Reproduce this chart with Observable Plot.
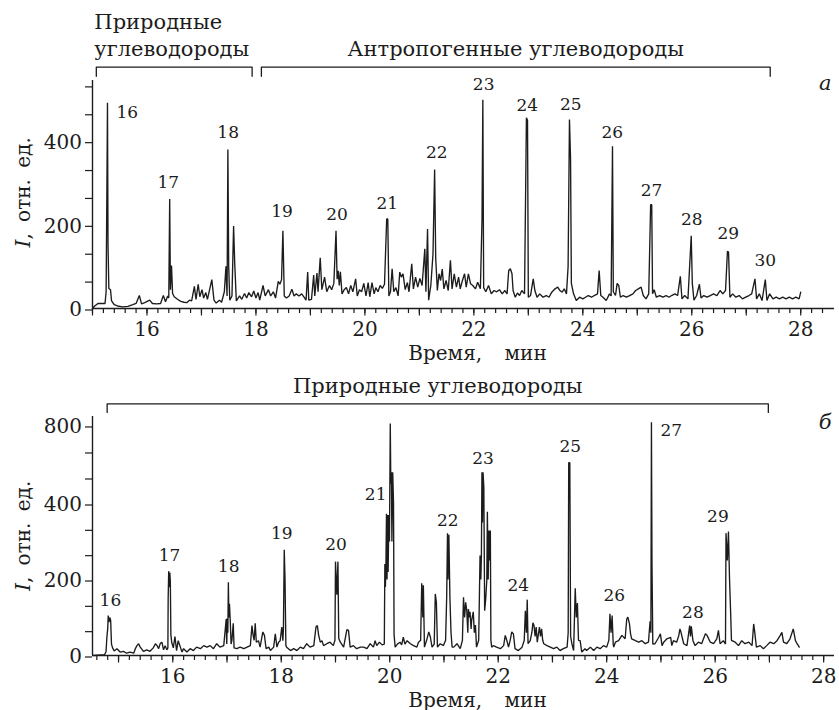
<!DOCTYPE html>
<html><head><meta charset="utf-8">
<script src="https://cdn.jsdelivr.net/npm/d3@7"></script>
<script src="https://cdn.jsdelivr.net/npm/@observablehq/plot@0.6"></script>
<style>
html,body{margin:0;padding:0;background:#fff;}
#chart{width:839px;height:710px;}
#chart svg{display:block;font-family:"DejaVu Serif",serif;}
#chart svg text{font-family:"DejaVu Serif",serif;}
</style></head><body><div id="chart"></div>
<script>
// ---------- Panel а : chromatogram (time, min ; intensity, rel. units) ----------
const traceA = [
[15.00,0],[15.04,6],[15.10,12],[15.23,12],[15.25,40],[15.265,300],[15.275,492],[15.285,150],[15.30,48],[15.33,45],[15.35,18],[15.40,9],[15.46,6],[15.55,4],[15.65,5],[15.74,9],[15.80,12],[15.86,31],[15.90,11],[15.96,14],[16.05,20],[16.10,12],[16.18,11],[16.25,12],[16.30,31],[16.34,16],[16.38,30],[16.40,25],[16.417,262],[16.43,45],[16.45,103],[16.47,36],[16.50,28],[16.56,22],[16.62,17],[16.68,15],[16.73,14],[16.78,20],[16.82,18],[16.87,53],[16.90,22],[16.94,58],[16.97,28],[17.01,45],[17.04,25],[17.08,38],[17.11,22],[17.19,69],[17.23,20],[17.27,13],[17.33,20],[17.37,15],[17.42,40],[17.45,101],[17.47,30],[17.485,380],[17.50,100],[17.52,20],[17.56,30],[17.59,197],[17.61,110],[17.64,18],[17.70,30],[17.74,22],[17.79,36],[17.83,25],[17.87,38],[17.92,28],[17.96,42],[18.00,25],[18.04,38],[18.07,20],[18.13,55],[18.17,30],[18.23,45],[18.27,30],[18.32,40],[18.36,25],[18.41,65],[18.44,58],[18.47,69],[18.495,186],[18.52,30],[18.56,25],[18.61,30],[18.66,46],[18.70,30],[18.74,35],[18.79,30],[18.84,35],[18.88,28],[18.92,20],[18.95,87],[18.97,20],[19.02,22],[19.06,80],[19.08,30],[19.12,85],[19.14,40],[19.18,121],[19.21,45],[19.26,75],[19.30,40],[19.35,55],[19.39,45],[19.43,60],[19.47,186],[19.49,70],[19.51,90],[19.53,55],[19.55,88],[19.58,35],[19.62,45],[19.66,50],[19.70,35],[19.74,55],[19.78,40],[19.83,71],[19.86,30],[19.90,45],[19.94,40],[19.98,60],[20.02,30],[20.06,62],[20.09,28],[20.13,62],[20.17,35],[20.20,50],[20.24,40],[20.28,55],[20.32,48],[20.36,58],[20.40,214],[20.42,214],[20.44,30],[20.47,40],[20.50,95],[20.53,40],[20.57,50],[20.61,30],[20.64,87],[20.67,75],[20.70,83],[20.74,45],[20.78,62],[20.81,40],[20.86,107],[20.89,47],[20.93,75],[20.97,51],[21.01,72],[21.05,55],[21.10,143],[21.12,40],[21.15,190],[21.17,20],[21.21,55],[21.25,130],[21.28,332],[21.30,120],[21.33,43],[21.36,83],[21.39,67],[21.42,94],[21.45,47],[21.49,67],[21.53,43],[21.57,115],[21.60,47],[21.64,83],[21.68,51],[21.72,75],[21.75,47],[21.79,67],[21.83,83],[21.86,51],[21.90,83],[21.94,59],[21.98,55],[22.03,47],[22.07,63],[22.12,47],[22.15,214],[22.165,499],[22.18,50],[22.22,40],[22.27,55],[22.32,35],[22.37,43],[22.42,40],[22.47,45],[22.52,35],[22.57,43],[22.61,35],[22.64,91],[22.67,95],[22.70,83],[22.72,43],[22.76,27],[22.80,37],[22.84,31],[22.88,43],[22.93,35],[22.965,456],[22.985,450],[23.00,27],[23.04,31],[23.09,71],[23.12,43],[23.16,27],[23.21,35],[23.27,27],[23.33,31],[23.38,27],[23.43,39],[23.49,47],[23.54,51],[23.58,43],[23.62,39],[23.66,47],[23.70,35],[23.73,100],[23.755,452],[23.775,358],[23.79,60],[23.83,35],[23.88,19],[23.94,27],[24.00,23],[24.05,27],[24.10,31],[24.16,27],[24.21,31],[24.27,35],[24.30,91],[24.33,31],[24.37,27],[24.43,19],[24.49,35],[24.52,30],[24.545,388],[24.56,40],[24.60,31],[24.63,60],[24.66,55],[24.69,27],[24.74,31],[24.80,27],[24.86,31],[24.92,35],[24.97,43],[25.02,47],[25.07,51],[25.11,31],[25.16,23],[25.21,35],[25.245,248],[25.265,248],[25.28,35],[25.31,45],[25.35,27],[25.41,31],[25.47,27],[25.53,31],[25.58,27],[25.63,31],[25.69,35],[25.74,31],[25.79,77],[25.82,23],[25.87,31],[25.93,23],[25.99,174],[26.01,60],[26.04,20],[26.09,31],[26.14,58],[26.17,25],[26.22,31],[26.28,27],[26.34,31],[26.40,35],[26.46,31],[26.52,43],[26.57,35],[26.62,43],[26.655,137],[26.675,135],[26.70,27],[26.75,35],[26.81,27],[26.87,31],[26.93,23],[26.99,27],[27.05,31],[27.10,35],[27.16,71],[27.19,23],[27.24,35],[27.29,19],[27.35,69],[27.38,19],[27.43,35],[27.49,23],[27.55,27],[27.61,23],[27.67,27],[27.73,23],[27.79,27],[27.85,23],[27.91,27],[27.97,23],[28.00,39]
];
const peakNamesA = ["16","17","18","19","20","21","22","23","24","25","26","27","28","29","30"];
const peakLabelTimeA = [15.64,16.39,17.49,18.48,19.49,20.41,21.32,22.18,22.98,23.78,24.54,25.26,26.00,26.67,27.35];
const peakLabelLevelA = [468,301,421,232,225,251,373,535,486,487,421,283,212,178,115];
const groupNamesA = ["Природные\nуглеводороды", "Антропогенные углеводороды"];
const groupStartA = [15.07, 18.10];
const groupEndA = [17.93, 27.44];

// ---------- Panel б ----------
const traceB = [
[14.54,0],[14.74,2],[14.77,10],[14.785,48],[14.80,70],[14.81,105],[14.825,88],[14.84,100],[14.855,92],[14.87,30],[14.89,20],[14.92,12],[14.97,18],[15.03,9],[15.09,11],[15.15,6],[15.21,9],[15.28,6],[15.31,18],[15.34,26],[15.37,31],[15.40,22],[15.46,11],[15.52,15],[15.58,11],[15.64,20],[15.68,31],[15.71,26],[15.74,18],[15.77,32],[15.80,35],[15.83,15],[15.86,26],[15.89,15],[15.91,20],[15.915,150],[15.925,222],[15.935,180],[15.945,218],[15.955,195],[15.965,55],[15.98,35],[16.01,20],[16.04,50],[16.07,13],[16.10,39],[16.14,22],[16.17,9],[16.20,18],[16.26,9],[16.32,18],[16.38,13],[16.44,22],[16.51,18],[16.57,26],[16.63,22],[16.69,26],[16.75,18],[16.81,31],[16.87,22],[16.94,26],[16.985,96],[16.995,30],[17.005,98],[17.015,60],[17.025,193],[17.035,100],[17.045,136],[17.06,90],[17.075,30],[17.09,40],[17.115,85],[17.13,20],[17.18,18],[17.24,22],[17.31,18],[17.37,22],[17.43,26],[17.46,79],[17.48,55],[17.50,40],[17.52,85],[17.54,35],[17.58,39],[17.61,22],[17.66,62],[17.69,53],[17.72,18],[17.77,22],[17.80,13],[17.86,22],[17.89,57],[17.92,22],[17.95,35],[17.98,39],[18.01,75],[18.03,39],[18.04,70],[18.055,278],[18.07,197],[18.085,26],[18.10,22],[18.17,13],[18.23,18],[18.29,13],[18.35,22],[18.41,18],[18.47,31],[18.53,22],[18.60,26],[18.64,75],[18.665,79],[18.69,53],[18.72,35],[18.75,39],[18.78,26],[18.84,31],[18.90,35],[18.96,26],[18.99,40],[19.00,247],[19.025,160],[19.045,247],[19.06,45],[19.09,35],[19.15,22],[19.21,68],[19.24,66],[19.27,22],[19.33,26],[19.39,18],[19.46,22],[19.52,22],[19.58,18],[19.64,31],[19.70,22],[19.73,39],[19.76,26],[19.81,35],[19.86,28],[19.90,30],[19.91,241],[19.92,180],[19.93,241],[19.94,373],[19.95,200],[19.96,370],[19.97,220],[19.985,370],[19.995,300],[20.01,810],[20.02,500],[20.03,560],[20.04,300],[20.055,560],[20.07,400],[20.08,55],[20.10,22],[20.14,30],[20.19,35],[20.22,28],[20.25,48],[20.28,30],[20.32,39],[20.38,31],[20.44,26],[20.50,22],[20.53,35],[20.57,40],[20.59,190],[20.61,100],[20.62,185],[20.64,22],[20.68,40],[20.72,62],[20.75,48],[20.78,22],[20.82,30],[20.84,162],[20.86,140],[20.88,22],[20.93,31],[20.99,26],[21.03,40],[21.05,154],[21.065,322],[21.075,200],[21.09,318],[21.11,150],[21.13,60],[21.15,22],[21.18,22],[21.24,31],[21.30,18],[21.34,40],[21.36,153],[21.38,100],[21.40,140],[21.42,118],[21.44,60],[21.45,122],[21.47,100],[21.48,115],[21.50,70],[21.51,92],[21.54,115],[21.56,60],[21.58,80],[21.60,22],[21.64,40],[21.665,263],[21.68,200],[21.69,263],[21.70,560],[21.71,350],[21.72,560],[21.735,480],[21.75,118],[21.77,150],[21.79,200],[21.80,378],[21.815,200],[21.83,329],[21.845,250],[21.855,329],[21.865,40],[21.88,22],[21.91,26],[21.97,22],[22.04,18],[22.10,26],[22.13,53],[22.16,39],[22.19,22],[22.22,40],[22.25,62],[22.28,57],[22.31,18],[22.37,13],[22.44,22],[22.48,40],[22.50,118],[22.52,60],[22.535,147],[22.55,31],[22.59,39],[22.62,60],[22.64,86],[22.66,79],[22.68,50],[22.70,75],[22.72,35],[22.76,75],[22.78,50],[22.80,70],[22.82,40],[22.84,31],[22.90,26],[22.96,22],[23.02,18],[23.08,22],[23.14,13],[23.20,18],[23.27,22],[23.29,60],[23.30,609],[23.32,609],[23.335,50],[23.36,30],[23.39,13],[23.42,177],[23.44,100],[23.46,138],[23.48,40],[23.51,39],[23.54,9],[23.60,18],[23.63,13],[23.70,22],[23.76,13],[23.82,22],[23.88,18],[23.94,26],[24.00,22],[24.04,40],[24.06,110],[24.08,60],[24.10,105],[24.12,30],[24.13,22],[24.16,35],[24.22,39],[24.28,53],[24.34,44],[24.37,96],[24.39,101],[24.42,83],[24.44,57],[24.46,44],[24.53,39],[24.59,35],[24.65,39],[24.71,31],[24.77,35],[24.80,90],[24.815,60],[24.825,817],[24.835,245],[24.85,30],[24.89,31],[24.96,48],[24.99,57],[25.02,26],[25.05,35],[25.11,44],[25.18,48],[25.20,26],[25.23,39],[25.29,35],[25.33,53],[25.35,70],[25.37,61],[25.42,31],[25.48,26],[25.53,79],[25.545,50],[25.56,77],[25.59,39],[25.63,26],[25.69,35],[25.75,31],[25.82,57],[25.85,53],[25.91,35],[25.97,31],[26.03,44],[26.06,66],[26.09,31],[26.15,39],[26.19,30],[26.20,322],[26.225,250],[26.245,326],[26.265,200],[26.285,114],[26.30,40],[26.37,35],[26.43,26],[26.49,39],[26.55,31],[26.62,35],[26.68,26],[26.71,83],[26.73,61],[26.76,22],[26.83,26],[26.89,18],[26.95,26],[27.01,35],[27.08,31],[27.14,39],[27.20,53],[27.23,61],[27.26,35],[27.32,31],[27.38,44],[27.44,70],[27.48,39],[27.51,31],[27.55,22]
];
const peakNamesB = ["16","17","18","19","20","21","22","23","24","25","26","27","28","29"];
const peakLabelTimeB = [14.85,15.94,17.03,18.01,19.01,19.74,21.07,21.72,22.37,23.33,24.14,25.19,25.59,26.05];
const peakLabelLevelB = [145,263,234,321,293,447,356,629,184,693,158,773,114,366];
const groupNamesB = ["Природные углеводороды"];
const groupStartB = [14.79];
const groupEndB = [26.98];

// ---------- axis tick values ----------
const yTickLabelsA = [0, 200, 400];
const yTickLabelsB = [0, 200, 400, 800];
const xLabel = "Время, мин";
const yLabel = "I, отн. ед.";

const FONT = "DejaVu Serif";
const INK = "#1c1c1c";

function panel({trace, names, lt, lv, groups, gs, ge, domainX, y, height, marginTop, marginBottom,
                minor, major, yTicks, yTickLabels, bracketTop, bracketFoot, headerLevel, letter, letterT, letterV, multiHeader, yLabelShift}) {
  const groupData = groups.map((g, i) => ({name: g, s: gs[i], e: ge[i]}));
  const labelData = names.map((n, i) => ({n, t: lt[i], v: lv[i]}));
  const bracketLines = groupData.map(g => [[g.s, bracketFoot], [g.s, bracketTop], [g.e, bracketTop], [g.e, bracketFoot]]);
  const headerMarks = multiHeader
    ? [Plot.text([groupData[0]], {x: "s", y: () => headerLevel, text: "name", textAnchor: "start", dx: -2,
         lineAnchor: "bottom", lineHeight: 1.28, fontSize: 21, fontFamily: FONT}),
       Plot.text([groupData[1]], {x: d => (d.s + d.e) / 2, y: () => headerLevel, text: "name",
         lineAnchor: "bottom", fontSize: 21, fontFamily: FONT})]
    : [Plot.text(groupData, {x: d => (d.s + d.e) / 2, y: () => headerLevel, text: "name", lineAnchor: "bottom", fontSize: 21, fontFamily: FONT})];
  return Plot.plot({
    width: 839, height, marginTop, marginBottom, marginLeft: 92, marginRight: 5,
    style: {fontFamily: FONT, fontSize: "20px", color: INK, background: "transparent", overflow: "visible"},
    x: {type: "linear", domain: domainX, label: null},
    y: {...y, label: null},
    marks: [
      Plot.axisX({ticks: minor, tickSize: 5, tickFormat: () => "", strokeWidth: 1.2}),
      Plot.axisX({ticks: major, tickSize: 7.5, tickPadding: 6, strokeWidth: 1.2, fontFamily: FONT,
        tickFormat: d => (d % 2 === 0 ? String(d) : "")}),
      Plot.axisY({ticks: yTicks, tickSize: 7, tickPadding: 3.5, strokeWidth: 1.2, dy: 1.5, fontFamily: FONT,
        tickFormat: d => (yTickLabels.some(v => Math.abs(v - d) < 1e-6) ? String(Math.round(d)) : "")}),
      Plot.ruleY([0], {stroke: INK, strokeWidth: 1.4}),
      Plot.ruleX([domainX[0]], {stroke: INK, strokeWidth: 1.4}),
      Plot.line(trace, {x: d => d[0], y: d => d[1], stroke: INK, strokeWidth: 1.35, strokeLinejoin: "miter"}),
      Plot.text(labelData, {x: "t", y: "v", text: "n", fontSize: 17, fill: INK, fontFamily: FONT}),
      ...bracketLines.map(b => Plot.line(b, {x: d => d[0], y: d => d[1], stroke: INK, strokeWidth: 1.3})),
      ...headerMarks,
      Plot.text([letter], {x: () => letterT, y: () => letterV, text: d => d, fontStyle: "italic", fontSize: 21, lineAnchor: "bottom", fontFamily: FONT}),
      Plot.text([xLabel], {frameAnchor: "bottom", textAnchor: "middle", dy: 51, dx: 14, lineAnchor: "bottom", fontSize: 20, fontFamily: FONT}),
      // rotated axis title; explicit start anchor, shifted down by half its length so it is centred
      Plot.text([yLabel], {frameAnchor: "left", textAnchor: "start", rotate: -90, dx: -68.5, dy: yLabelShift, fontSize: 20, fontFamily: FONT})
    ]
  });
}

function panelA() {
  return panel({
    trace: traceA, names: peakNamesA, lt: peakLabelTimeA, lv: peakLabelLevelA,
    groups: groupNamesA, gs: groupStartA, ge: groupEndA,
    domainX: [15, 28.62], y: {type: "linear", domain: [0, 545]}, height: 360, marginTop: 80, marginBottom: 52,
    minor: d3.range(75, 143).map(i => i / 5), major: d3.range(15, 29),
    yTicks: d3.range(0, 9).map(i => i * 200 / 3), yTickLabels: yTickLabelsA,
    bracketTop: 577, bracketFoot: 555, headerLevel: 603, letter: "а", letterT: 28.45, letterV: 523, multiHeader: true,
    yLabelShift: 53
  });
}
function panelB() {
  // the printed axis of panel б is compressed above 400 (0, 200, 400, 800 equally spaced): piecewise linear scale
  return panel({
    trace: traceB, names: peakNamesB, lt: peakLabelTimeB, lv: peakLabelLevelB,
    groups: groupNamesB, gs: groupStartB, ge: groupEndB,
    domainX: [14.52, 28.2], y: {type: "linear", domain: [0, 400, 846], range: [295, 143, 56]}, height: 350, marginTop: 56, marginBottom: 55,
    minor: d3.range(73, 141).map(i => i / 5), major: d3.range(15, 29),
    yTicks: [0, 200/3, 400/3, 200, 800/3, 1000/3, 400, 1600/3, 2000/3, 800], yTickLabels: yTickLabelsB,
    bracketTop: 911, bracketFoot: 867, headerLevel: 966, letter: "б", letterT: 28.03, letterV: 783, multiHeader: false,
    yLabelShift: 55
  });
}

const root = document.getElementById("chart");
let svgA, svgB;
try { svgA = panelA(); } catch (e) { console.error(e); }
try { svgB = panelB(); } catch (e) { console.error(e); }
[svgA, svgB].forEach(svg => {
  if (!svg) return;
  root.appendChild(svg);
  svg.querySelectorAll("text").forEach(t => {
    const s = t.textContent;
    if (s === yLabel) {
      t.textContent = "";
      const ns = "http://www.w3.org/2000/svg";
      const a = document.createElementNS(ns, "tspan"); a.setAttribute("font-style", "italic"); a.textContent = "I";
      const b = document.createElementNS(ns, "tspan"); b.textContent = ", отн. ед.";
      t.appendChild(a); t.appendChild(b);
      t.style.wordSpacing = "5px";
    } else if (s === xLabel) {
      t.style.wordSpacing = "16px";
    }
  });
});
</script>
</body></html>
